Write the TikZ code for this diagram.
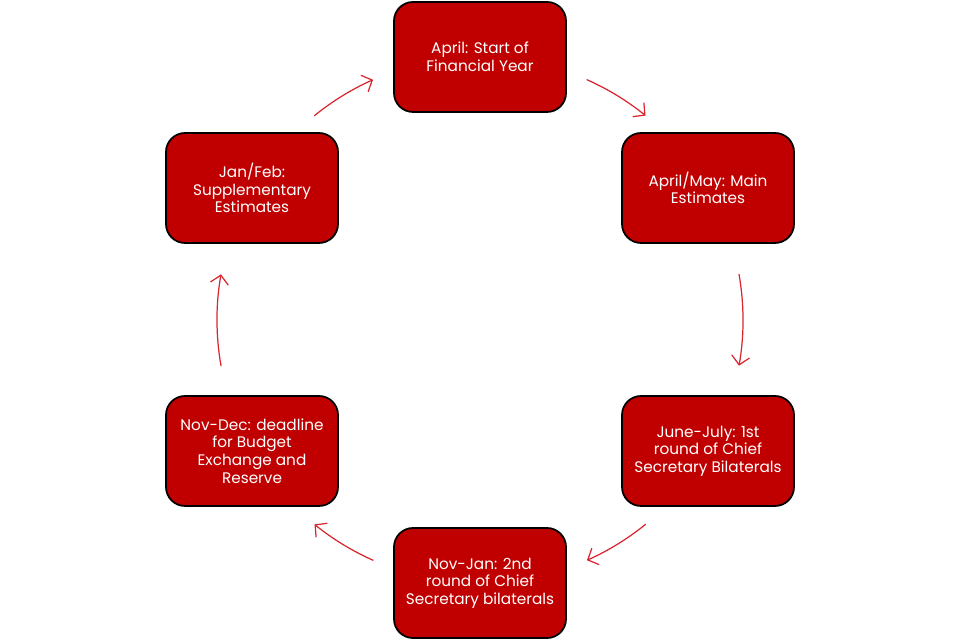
\documentclass[tikz,border=0pt]{standalone}
\usepackage{fontspec}
\setmainfont{Poppins}
\usetikzlibrary{arrows.meta,calc}
\definecolor{boxred}{HTML}{C00000}
\definecolor{arrowred}{HTML}{D9262E}
\tikzset{
 stage/.style={draw=black, line width=1pt, fill=boxred, rounded corners=0.38cm,
  minimum width=3.44cm, minimum height=2.2cm, text=white, align=center,
  font=\fontsize{8.7}{10}\selectfont},
 flow/.style={draw=arrowred, line width=0.7pt, line cap=round,
  -{Straight Barb[length=1.7mm,width=3.6mm]}}
}
\begin{document}
\begin{tikzpicture}
 \useasboundingbox (0,0) rectangle (19.2,12.8);
 \def\r{5.26}
 \coordinate (c) at (9.6,6.4);
 % stages of the year
 \node[stage] (apr) at (9.6,11.66) {April: Start of\\Financial Year};
 \node[stage] (may) at (14.16,9.04) {April/May: Main\\Estimates};
 \node[stage] (jul) at (14.16,3.78) {June-July: 1st\\round of Chief\\Secretary Bilaterals};
 \node[stage] (jan) at (9.6,1.14) {Nov-Jan: 2nd\\round of Chief\\Secretary bilaterals};
 \node[stage] (dec) at (5.04,3.78) {Nov-Dec: deadline\\for Budget\\Exchange and\\Reserve};
 \node[stage] (feb) at (5.04,9.04) {Jan/Feb:\\Supplementary\\Estimates};
 % arrows on a circle round the middle
 \coordinate (s1) at ($(c)+(66:\r)$);
 \coordinate (s2) at ($(c)+(10:\r)$);
 \coordinate (s3) at ($(c)+(-51:\r)$);
 \coordinate (s4) at ($(c)+(-114:\r)$);
 \coordinate (s5) at ($(c)+(190:\r)$);
 \coordinate (s6) at ($(c)+(129:\r)$);
 \draw[flow] (s1) arc (66:51:\r);
 \draw[flow] (s2) arc (10:-10:\r);
 \draw[flow] (s3) arc (-51:-66:\r);
 \draw[flow] (s4) arc (-114:-129:\r);
 \draw[flow] (s5) arc (190:170:\r);
 \draw[flow] (s6) arc (129:114:\r);
\end{tikzpicture}
\end{document}
